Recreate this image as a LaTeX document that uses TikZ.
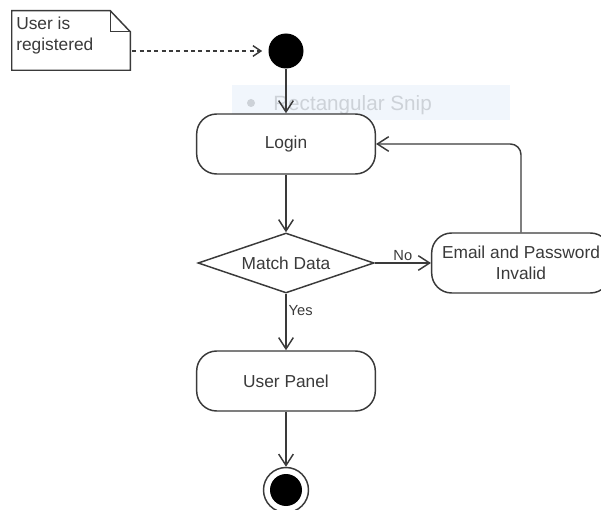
\documentclass[tikz,border=0pt]{standalone}
\usepackage{fontspec}
\setmainfont{Liberation Sans}
\usetikzlibrary{shapes.geometric,arrows.meta,calc}
\definecolor{umlline}{HTML}{3A3A3A}
\definecolor{snipbg}{HTML}{F1F6FC}
\definecolor{sniptext}{HTML}{CDD2D8}

\begin{document}
\begin{tikzpicture}[x=0.75pt,y=-0.75pt,
  every node/.style={font=\fontsize{13}{15.75}\selectfont,text=umlline},
  act/.style={draw=umlline,line width=1.1pt,fill=white,rounded corners=15pt,
    minimum width=134pt,minimum height=45pt,align=center},
  choice/.style={diamond,draw=umlline,line width=1.1pt,fill=white,aspect=3,
    inner sep=0pt,minimum width=132pt,minimum height=45pt},
  flow/.style={draw=umlline,line width=1.1pt,-{Straight Barb[length=8.5pt,width=11pt]}},
  lbl/.style={font=\fontsize{11}{13}\selectfont,inner sep=1.5pt}]
  \useasboundingbox (0,0) rectangle (601,510);
  % snip tool overlay
  \fill[snipbg] (232,85) rectangle (510,120);
  \fill[sniptext] (251,103) circle [radius=4];
  \node (snip) [anchor=base west,inner sep=0,text=sniptext,
    font=\fontsize{15.5}{18}\selectfont] at (273,111) {Rectangular Snip};
  % note
  \node (note) [minimum width=88.5pt,minimum height=44.25pt,inner sep=0]
    at (71,40.5) {};
  \draw[draw=umlline,line width=1.1pt,fill=white] (note.north west) --
    ($(note.north east)+(-20,0)$) -- ($(note.north east)+(0,21)$) --
    (note.south east) -- (note.south west) -- cycle;
  \draw[draw=umlline,line width=1.1pt] ($(note.north east)+(-20,0)$) |-
    ($(note.north east)+(0,21)$);
  \node (notetext) [anchor=north west,align=left,inner sep=0] at (16,17)
    {User is\\registered};
  % states
  \node (start) [circle,fill=black,minimum size=26.25pt,inner sep=0] at (286,51) {};
  \node (login) [act] at (286,144) {Login};
  \node (match) [choice] at (286,263) {Match Data};
  \node (invalid) [act] at (521,263) {Email and Password\\Invalid};
  \node (panel) [act] at (286,381) {User Panel};
  \node (stop) [circle,draw=umlline,line width=1.1pt,fill=white,
    minimum size=33.75pt,inner sep=0] at (286,490) {};
  \fill[black] (stop) circle [radius=16];
  % flows
  \draw[flow,-{Straight Barb[length=6pt,width=8pt]},dash pattern=on 3pt off 2.5pt,
    shorten <=1.5pt,shorten >=4.5pt] (note.east |- start) -- (start);
  \draw[flow] (start) -- (login);
  \draw[flow] (login) -- (match);
  \draw[flow] (match) -- node[lbl,above] {No} (invalid);
  \draw[flow,rounded corners=8pt] (invalid.north) |- (login.east);
  \draw[flow] (match) -- node[lbl,right,pos=0.3] {Yes} (panel);
  \draw[flow] (panel) -- (stop);
\end{tikzpicture}
\end{document}
